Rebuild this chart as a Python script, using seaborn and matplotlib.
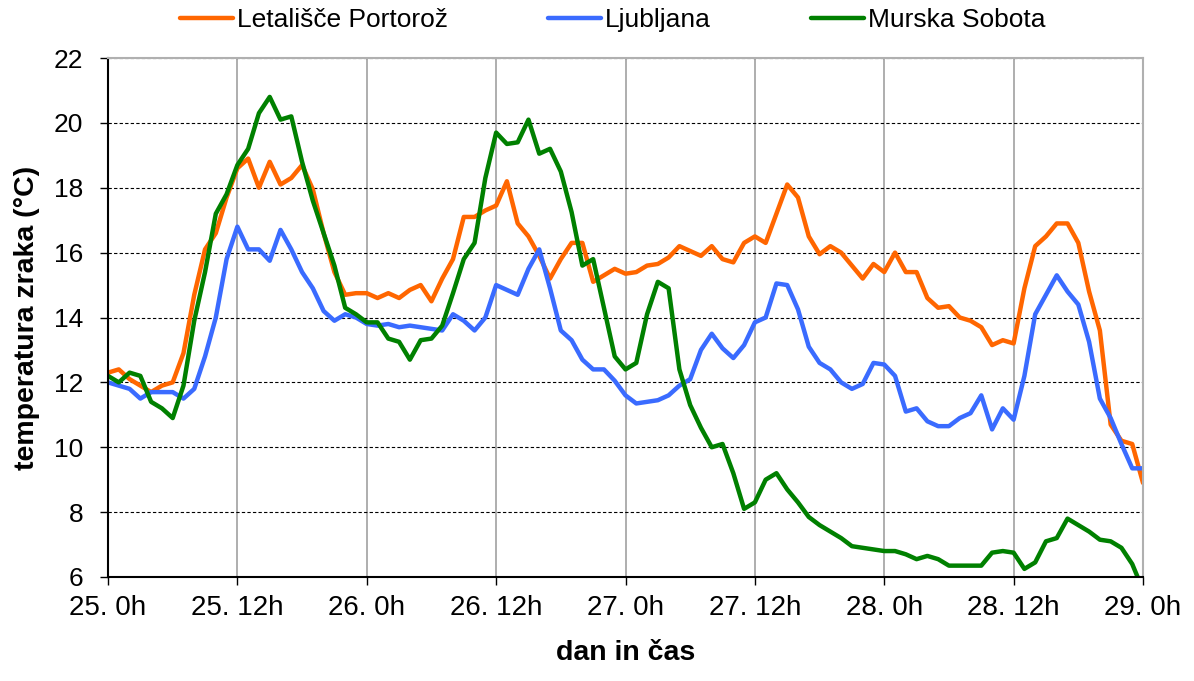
import numpy as np
import pandas as pd
import seaborn as sns
from matplotlib import pyplot as plt

# hourly temperatures, 25. 0h .. 29. 0h
hours = list(range(0, 97))

portoroz = [12.3, 12.4, 12.1, 11.9, 11.7, 11.9, 12.0, 12.9, 14.7, 16.1,
            16.6, 17.7, 18.6, 18.9, 18.0, 18.8, 18.1, 18.3, 18.7, 17.95,
            16.6, 15.4, 14.7, 14.75, 14.75, 14.6, 14.75, 14.6, 14.85, 15.0,
            14.5, 15.2, 15.8, 17.1, 17.1, 17.3, 17.45, 18.2, 16.9, 16.5,
            15.9, 15.2, 15.8, 16.3, 16.3, 15.1, 15.3, 15.5, 15.35, 15.4,
            15.6, 15.65, 15.85, 16.2, 16.05, 15.9, 16.2, 15.8, 15.7, 16.3,
            16.5, 16.3, 17.2, 18.1, 17.7, 16.5, 15.95, 16.2, 16.0, 15.6,
            15.2, 15.65, 15.4, 16.0, 15.4, 15.4, 14.6, 14.3, 14.35, 14.0,
            13.9, 13.7, 13.15, 13.3, 13.2, 14.9, 16.2, 16.5, 16.9, 16.9,
            16.3, 14.8, 13.6, 10.7, 10.2, 10.1, 8.9]

ljubljana = [12.0, 11.9, 11.8, 11.5, 11.7, 11.7, 11.7, 11.5, 11.8, 12.8,
             14.0, 15.8, 16.8, 16.1, 16.1, 15.75, 16.7, 16.1, 15.4, 14.9,
             14.2, 13.9, 14.1, 14.0, 13.8, 13.75, 13.8, 13.7, 13.75, 13.7,
             13.65, 13.6, 14.1, 13.9, 13.6, 14.0, 15.0, 14.85, 14.7, 15.5,
             16.1, 14.9, 13.6, 13.3, 12.7, 12.4, 12.4, 12.05, 11.6, 11.35,
             11.4, 11.45, 11.6, 11.9, 12.1, 13.0, 13.5, 13.05, 12.75, 13.15,
             13.85, 14.0, 15.05, 15.0, 14.25, 13.1, 12.6, 12.4, 12.0, 11.8,
             11.95, 12.6, 12.55, 12.2, 11.1, 11.2, 10.8, 10.65, 10.65, 10.9,
             11.05, 11.6, 10.55, 11.2, 10.85, 12.2, 14.1, 14.7, 15.3, 14.8,
             14.4, 13.25, 11.5, 10.9, 10.1, 9.35, 9.35]

murska_sobota = [12.2, 12.0, 12.3, 12.2, 11.4, 11.2, 10.9, 11.9, 13.9, 15.4,
                 17.2, 17.8, 18.7, 19.2, 20.3, 20.8, 20.1, 20.2, 18.8, 17.6,
                 16.6, 15.6, 14.3, 14.1, 13.85, 13.85, 13.35, 13.25, 12.7, 13.3,
                 13.35, 13.75, 14.75, 15.8, 16.3, 18.3, 19.7, 19.35, 19.4, 20.1,
                 19.05, 19.2, 18.5, 17.25, 15.6, 15.8, 14.3, 12.8, 12.4, 12.6,
                 14.1, 15.1, 14.9, 12.4, 11.3, 10.6, 10.0, 10.1, 9.2, 8.1,
                 8.3, 9.0, 9.2, 8.7, 8.3, 7.85, 7.6, 7.4, 7.2, 6.95,
                 6.9, 6.85, 6.8, 6.8, 6.7, 6.55, 6.65, 6.55, 6.35, 6.35,
                 6.35, 6.35, 6.75, 6.8, 6.75, 6.25, 6.45, 7.1, 7.2, 7.8,
                 7.6, 7.4, 7.15, 7.1, 6.9, 6.4, 5.6]

stations = ["Letališče Portorož", "Ljubljana", "Murska Sobota"]
colors = ["#FF6600", "#3A6BFF", "#008000"]

tick_hours = [0, 12, 24, 36, 48, 60, 72, 84, 96]
tick_labels = ["25. 0h", "25. 12h", "26. 0h", "26. 12h", "27. 0h",
               "27. 12h", "28. 0h", "28. 12h", "29. 0h"]
y_ticks = [6, 8, 10, 12, 14, 16, 18, 20, 22]


def main():
    sns.set_style("white")
    plt.rcParams["font.family"] = ["Liberation Sans", "DejaVu Sans"]
    plt.rcParams["text.color"] = "black"
    plt.rcParams["axes.labelcolor"] = "black"
    plt.rcParams["xtick.color"] = "black"
    plt.rcParams["ytick.color"] = "black"

    df = pd.DataFrame({
        "ura": hours * 3,
        "temperatura": portoroz + ljubljana + murska_sobota,
        "postaja": [s for s in stations for _ in hours],
    })

    fig = plt.figure(figsize=(11.94, 6.81), dpi=100)
    ax = fig.add_axes([108 / 1194, 1 - 577 / 681, 1035 / 1194, 519 / 681])

    sns.lineplot(data=df, x="ura", y="temperatura", hue="postaja",
                 hue_order=stations, palette=dict(zip(stations, colors)),
                 linewidth=3.2, errorbar=None, ax=ax)

    ax.set_xlim(0, 96)
    ax.set_ylim(6, 22)
    ax.set_xticks(tick_hours)
    ax.set_xticklabels(tick_labels)
    ax.set_yticks(y_ticks)

    ax.set_axisbelow(True)
    ax.yaxis.grid(True, color="black", linestyle=(0, (3, 2)), linewidth=0.8)
    ax.xaxis.grid(True, color="#A8A8A8", linewidth=1.3)

    for side in ["top", "right"]:
        ax.spines[side].set_color("#B0B0B0")
        ax.spines[side].set_linewidth(1.5)
    for side in ["left", "bottom"]:
        ax.spines[side].set_color("black")
        ax.spines[side].set_linewidth(1.5)

    ax.tick_params(axis="both", direction="out", length=6, width=1,
                   color="black", labelcolor="black", left=True, bottom=True)
    ax.tick_params(axis="y", labelsize=19, pad=12)
    ax.tick_params(axis="x", labelsize=20, pad=7)

    ax.set_xlabel("dan in čas", fontsize=20.5, fontweight="bold", labelpad=14,
                  color="black")
    ax.set_ylabel("temperatura zraka (°C)", fontsize=20.5, fontweight="bold",
                  labelpad=10, color="black")

    handles, labels = ax.get_legend_handles_labels()
    ax.get_legend().remove()
    leg = fig.legend(handles, labels, loc="center",
                     bbox_to_anchor=(0.513, 0.971), ncol=3, frameon=False,
                     fontsize=19, handlelength=2.0, handletextpad=0.15,
                     columnspacing=3.8)
    for text in leg.get_texts():
        text.set_color("black")

    fig.savefig("out.png", dpi=100)


if __name__ == '__main__':
    main()
